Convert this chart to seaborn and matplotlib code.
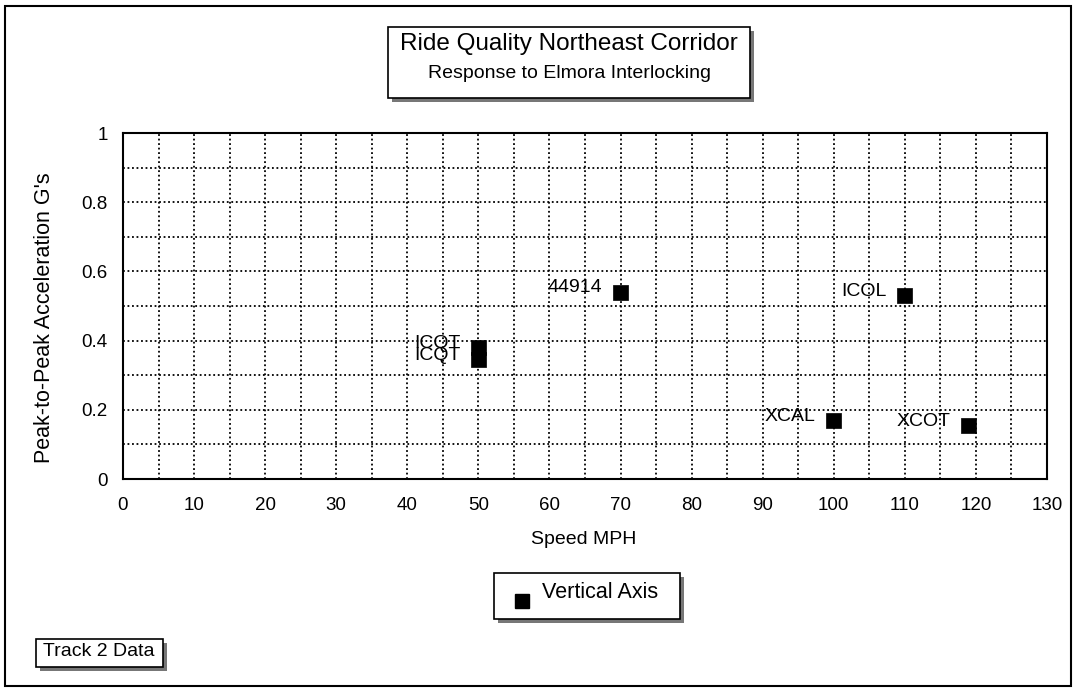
import matplotlib
matplotlib.use("Agg")
import matplotlib.pyplot as plt
import matplotlib.patches as mpatches
from matplotlib.ticker import MultipleLocator
import seaborn as sns
import pandas as pd

labels = ["44914", "ICQT", "ICQT", "ICOL", "XCAL", "XCOT"]
speed = [70, 50, 50, 110, 100, 119]
accel = [0.54, 0.38, 0.345, 0.53, 0.17, 0.155]
series = ["Vertical Axis"] * len(labels)
x_ticks = list(range(0, 131, 10))
y_ticks = [0, 0.2, 0.4, 0.6, 0.8, 1]

df = pd.DataFrame({"Speed MPH": speed, "acc": accel, "label": labels, "series": series})

sns.set_theme(style="white")
plt.rcParams["font.family"] = ["Liberation Sans", "DejaVu Sans"]

W, H = 1078, 692
fig = plt.figure(figsize=(10.78, 6.92), dpi=100)
ax = fig.add_axes([123 / W, 1 - 479 / H, 924 / W, 346 / H])

sns.scatterplot(data=df, x="Speed MPH", y="acc", hue="series", palette=["black"],
                marker="s", s=115, edgecolor="black", linewidth=0.5, ax=ax, legend=False, zorder=5)

for lab, xv, yv in zip(labels, speed, accel):
    ax.annotate(lab, (xv, yv), xytext=(-13, 3), textcoords="offset points",
                ha="right", va="center", fontsize=14, color="black", zorder=6)

ax.set_xlim(0, 130)
ax.set_ylim(0, 1)
ax.set_xticks(x_ticks)
ax.set_yticks(y_ticks)
ax.set_yticklabels([f"{v:g}" for v in y_ticks])
ax.xaxis.set_minor_locator(MultipleLocator(5))
ax.yaxis.set_minor_locator(MultipleLocator(0.1))
ax.grid(True, which="both", color="black", linestyle=(0, (1, 1.5)), linewidth=1.3)
ax.set_axisbelow(True)
for sp in ax.spines.values():
    sp.set_color("black")
    sp.set_linewidth(1.5)
ax.tick_params(axis="x", which="major", labelsize=13.5, length=0, pad=13, colors="black")
ax.tick_params(axis="y", which="major", labelsize=13.5, length=0, pad=11, colors="black")
ax.tick_params(axis="both", which="minor", length=0)
ax.set_xlabel("Speed MPH", fontsize=14, color="black")
ax.set_ylabel("Peak-to-Peak Acceleration G's", fontsize=15.5, color="black")
ax.xaxis.label.set_va("center")
ax.yaxis.label.set_va("center")
ax.xaxis.set_label_coords((584 - 123) / 924, -(540 - 479) / 346)
ax.yaxis.set_label_coords((45 - 123) / 924, (479 - 318) / 346)


def shadow_box(x0, y0, w, h):
    sh = mpatches.Rectangle(((x0 + 4) / W, 1 - (y0 + h + 4) / H), w / W, h / H,
                            transform=fig.transFigure, facecolor="#777777", edgecolor="none", zorder=1)
    bx = mpatches.Rectangle((x0 / W, 1 - (y0 + h) / H), w / W, h / H,
                            transform=fig.transFigure, facecolor="white", edgecolor="black",
                            linewidth=1.2, zorder=2)
    fig.patches.extend([sh, bx])


# outer frame
fig.patches.append(mpatches.Rectangle((5 / W, 1 - 686 / H), 1066 / W, 680 / H,
                                      transform=fig.transFigure, facecolor="none",
                                      edgecolor="black", linewidth=1.5))

shadow_box(388, 27, 362, 71)
fig.text(569 / W, 1 - 44 / H, "Ride Quality Northeast Corridor", ha="center", va="center",
         fontsize=17.5, color="black", zorder=3)
fig.text(569 / W, 1 - 73 / H, "Response to Elmora Interlocking", ha="center", va="center",
         fontsize=14, color="black", zorder=3)

shadow_box(494, 573, 186, 46)
fig.patches.append(mpatches.Rectangle((515 / W, 1 - 608 / H), 14 / W, 14 / H,
                                      transform=fig.transFigure, facecolor="black",
                                      edgecolor="black", zorder=3))
fig.text(542 / W, 1 - 593 / H, "Vertical Axis", ha="left", va="center", fontsize=15.5,
         color="black", zorder=3)

shadow_box(36, 639, 127, 28)
fig.text(99 / W, 1 - 652 / H, "Track 2 Data", ha="center", va="center", fontsize=14,
         color="black", zorder=3)

fig.savefig("out.png", dpi=100, facecolor="white")
